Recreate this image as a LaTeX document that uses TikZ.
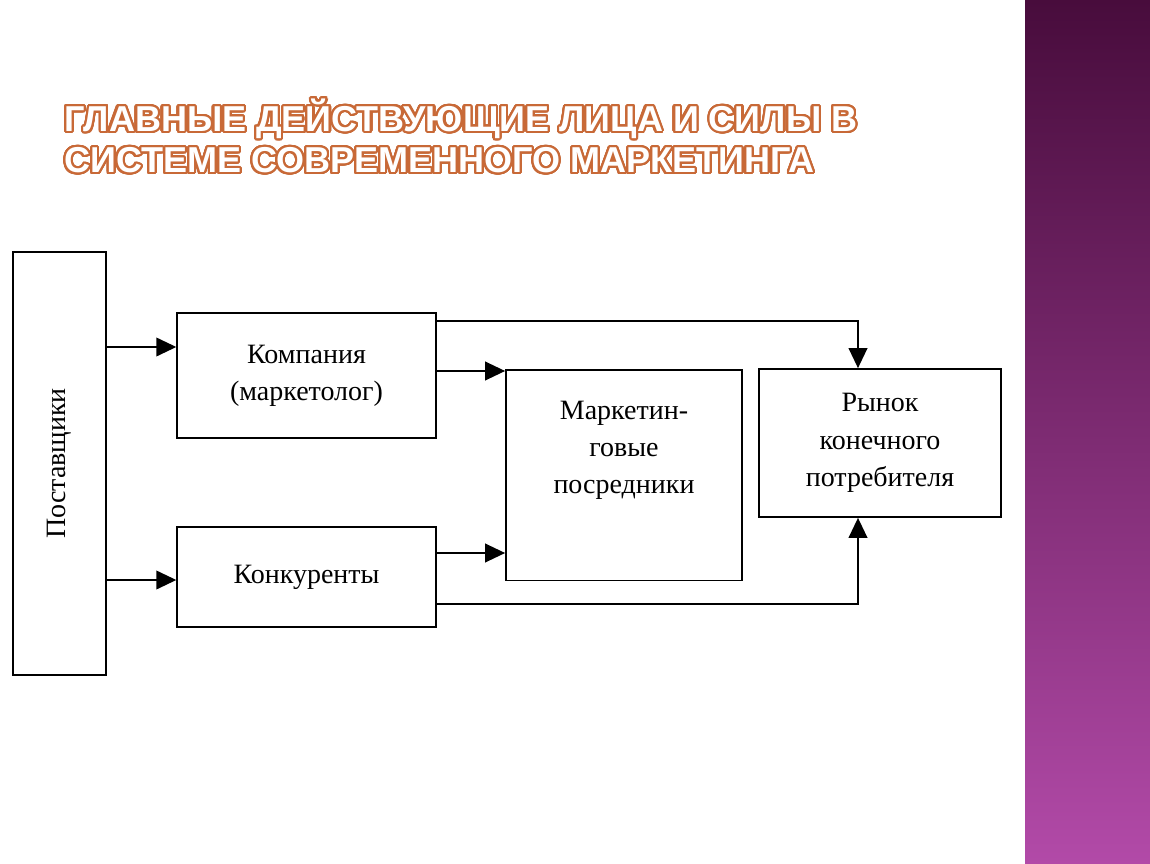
\documentclass[tikz,border=0pt]{standalone}
\usepackage{fontspec}
\setmainfont{Liberation Serif}
\newfontfamily\ttl{Liberation Sans}
\usepackage{contour}
\contourlength{1.6pt}
\contournumber{32}
\usetikzlibrary{arrows.meta}
\definecolor{ttlc}{RGB}{200,105,55}
\begin{document}
\begin{tikzpicture}[x=0.75pt,y=-0.75pt,
  bx/.style={draw,line width=1.3pt,fill=white,align=center,font=\fontsize{21}{28}\selectfont},
  ar/.style={line width=1.3pt,-{Triangle[length=15pt,width=14pt]}}]
\useasboundingbox (0,0) rectangle (1150,864);
\fill[white] (0,0) rectangle (1150,864);
\shade[top color={rgb,255:red,72;green,12;blue,60},bottom color={rgb,255:red,178;green,74;blue,168}] (1025,0) rectangle (1150,864);
\node[anchor=west,font=\ttl\bfseries\fontsize{27}{33}\selectfont,align=left,inner sep=0] (t) at (64,137)
 {\contour{ttlc}{\textcolor{white}{ГЛАВНЫЕ ДЕЙСТВУЮЩИЕ ЛИЦА И СИЛЫ В}}\\[-2pt]\contour{ttlc}{\textcolor{white}{СИСТЕМЕ СОВРЕМЕННОГО МАРКЕТИНГА}}};
\node[bx,minimum width=70pt,minimum height=317pt] (p) at (59.5,463.5) {};
\node[rotate=90,font=\fontsize{21}{28}\selectfont] at (p) {Поставщики};
\node[bx,minimum width=194pt,minimum height=94pt] (k) at (306.5,375.5) {Компания\\(маркетолог)};
\node[bx,minimum width=194pt,minimum height=75pt] (c) at (306.5,577) {Конкуренты};
\node[bx,minimum width=177pt,minimum height=158pt,anchor=north,inner sep=6pt] (m) at (624,369) {Маркетин-\\говые\\посредники\\[14pt]};
\node[bx,minimum width=181pt,minimum height=111pt] (r) at (880,443) {Рынок\\конечного\\потребителя};
\draw[ar] (p.east|-0,347) -- (k.west|-0,347);
\draw[ar] (p.east|-0,580) -- (c.west|-0,580);
\draw[ar] (k.east|-0,371) -- (m.west|-0,371);
\draw[ar] (c.east|-0,553) -- (m.west|-0,553);
\draw[ar] (k.east|-0,321) -| (r.north-|858,0);
\draw[ar] (c.east|-0,604) -| (r.south-|858,0);
\end{tikzpicture}
\end{document}
